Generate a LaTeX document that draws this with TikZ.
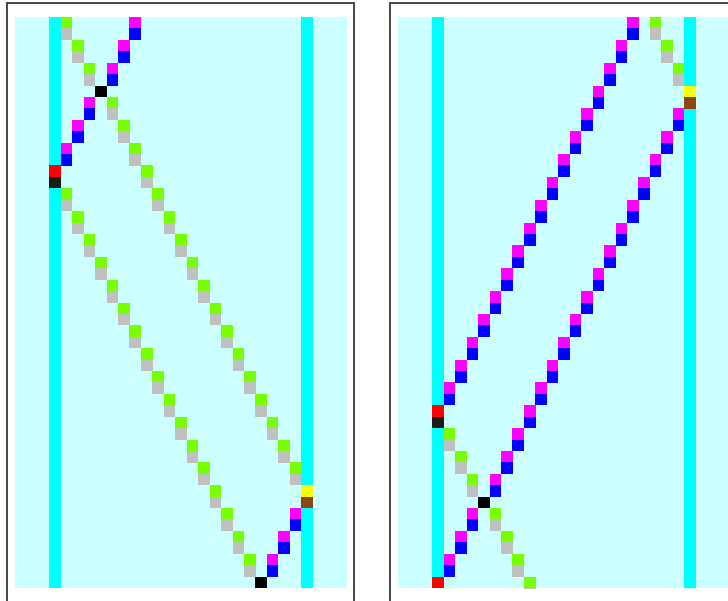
\documentclass[tikz,border=0pt]{standalone}
\definecolor{bgc}{HTML}{CCFFFF}
\definecolor{wallc}{HTML}{00FFFF}
\definecolor{grn}{HTML}{77FF00}
\definecolor{slv}{HTML}{C0C0C0}
\definecolor{mgn}{HTML}{FF00FF}
\definecolor{blu}{HTML}{0000FF}
\definecolor{drk}{HTML}{1A1A1A}
\definecolor{brn}{HTML}{8B4513}
\definecolor{ylw}{HTML}{FFFF00}
\definecolor{rdd}{HTML}{FF0000}
\definecolor{framec}{HTML}{4A4A4A}
% cell size
\def\cw{11.448}
\def\ch{11.42}
% one cell: origin x, column, row, colour
\newcommand{\cellat}[4]{\fill[#4] ({#1+(#2)*\cw},{17+(#3)*\ch}) rectangle ++(\cw+0.15,\ch+0.15);}
% two stacked cells (top colour, bottom colour)
\newcommand{\duo}[5]{\cellat{#1}{#2}{#3}{#4}\cellat{#1}{#2}{(#3)+1}{#5}}
\begin{document}
\begin{tikzpicture}[x=1pt,y=-1pt]
\useasboundingbox (0,0) rectangle (728,600);
\fill[white] (0,0) rectangle (728,600);
\tikzset{panelframe/.style={draw=framec,line width=1.6pt}}

% ---------- left panel ----------
\draw[panelframe] (7,3) rectangle (354,612);
\begin{scope}
\clip (15,17) rectangle (347,588);
\fill[bgc] (15,17) rectangle (347,588);
\fill[wallc] ({15+3*\cw},17) rectangle ++(\cw,571);
\fill[wallc] ({15+25*\cw},17) rectangle ++(\cw,571);
\cellat{15}{3}{13}{rdd}
\cellat{15}{3}{14}{drk}
\cellat{15}{25}{41}{ylw}
\cellat{15}{25}{42}{brn}
% right-moving pairs
\foreach \k in {0,...,2} {\duo{15}{4+\k}{2*\k}{grn}{slv}}
\foreach \k in {0,...,16} {\duo{15}{8+\k}{7+2*\k}{grn}{slv}}
\foreach \k in {0,...,16} {\duo{15}{4+\k}{15+2*\k}{grn}{slv}}
% left-moving pairs
\foreach \k in {0,...,2} {\duo{15}{10-\k}{2*\k}{mgn}{blu}}
\foreach \k in {0,...,2} {\duo{15}{6-\k}{7+2*\k}{mgn}{blu}}
\foreach \k in {0,...,2} {\duo{15}{24-\k}{43+2*\k}{mgn}{blu}}
% collisions
\cellat{15}{7}{6}{black}
\cellat{15}{21}{49}{black}
\end{scope}

% ---------- right panel ----------
\draw[panelframe] (390,3) rectangle (737,612);
\begin{scope}
\clip (398,17) rectangle (730,588);
\fill[bgc] (398,17) rectangle (730,588);
\fill[wallc] ({398+3*\cw},17) rectangle ++(\cw,571);
\fill[wallc] ({398+25*\cw},17) rectangle ++(\cw,571);
\cellat{398}{3}{34}{rdd}
\cellat{398}{3}{35}{drk}
\cellat{398}{3}{49}{rdd}
\cellat{398}{25}{6}{ylw}
\cellat{398}{25}{7}{brn}
% right-moving pairs
\foreach \k in {0,...,2} {\duo{398}{22+\k}{2*\k}{grn}{slv}}
\foreach \k in {0,...,2} {\duo{398}{4+\k}{36+2*\k}{grn}{slv}}
\foreach \k in {0,...,3} {\duo{398}{8+\k}{43+2*\k}{grn}{slv}}
% left-moving pairs
\foreach \k in {0,...,16} {\duo{398}{20-\k}{2*\k}{mgn}{blu}}
\foreach \k in {0,...,16} {\duo{398}{24-\k}{8+2*\k}{mgn}{blu}}
\foreach \k in {0,...,2} {\duo{398}{6-\k}{43+2*\k}{mgn}{blu}}
% collision
\cellat{398}{7}{42}{black}
\end{scope}
\end{tikzpicture}
\end{document}
